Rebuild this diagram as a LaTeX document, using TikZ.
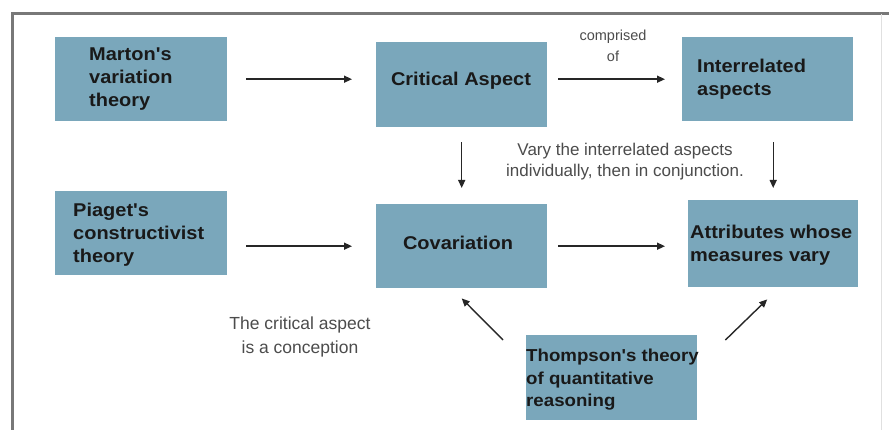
\documentclass[tikz,border=0pt]{standalone}
\usepackage{fontspec}
\setmainfont{Liberation Sans}
\newfontfamily\boxfont[FakeStretch=1.08]{Liberation Sans}
\usetikzlibrary{arrows.meta}
\definecolor{boxblue}{RGB}{122,167,187}
\definecolor{txt}{RGB}{25,25,25}
\definecolor{frame}{RGB}{120,120,120}
\tikzset{
  box/.style={rectangle, fill=boxblue, draw=none, anchor=north west, inner sep=0pt},
  btext/.style={font=\boxfont\bfseries\fontsize{18.5}{23}\selectfont, text=txt, align=left, inner sep=0pt},
  note/.style={font=\fontsize{17}{21}\selectfont, text=black!70, align=center, inner sep=0pt},
  arr/.style={-{Triangle[length=8pt,width=7pt]}, line width=1.4pt, draw=black!85},
}
\begin{document}
\begin{tikzpicture}[x=1pt,y=-1pt]
\useasboundingbox (0,0) rectangle (889,430);
\fill[white] (0,0) rectangle (889,430);
% frame
\draw[frame, line width=3pt] (12,430) -- (12,14) -- (889,14);
\draw[black!12, line width=1pt] (881,14) -- (881,430);
% boxes
\node[box, minimum width=172pt, minimum height=84pt] (marton) at (55,37) {};
\node[box, minimum width=171pt, minimum height=85pt] (critical) at (376,42) {};
\node[box, minimum width=171pt, minimum height=84pt] (inter) at (682,37) {};
\node[box, minimum width=172pt, minimum height=84pt] (piaget) at (55,191) {};
\node[box, minimum width=171pt, minimum height=84pt] (covar) at (376,204) {};
\node[box, minimum width=170pt, minimum height=87pt] (attr) at (688,200) {};
\node[box, minimum width=171pt, minimum height=85pt] (thomp) at (526,335) {};
% box texts
\node[btext, anchor=west] (tmarton) at (89,79) {Marton's\\variation\\theory};
\node[btext] (tcritical) at (461,81) {Critical Aspect};
\node[btext, anchor=west] (tinter) at (697,79) {Interrelated\\aspects};
\node[btext, anchor=west] (tpiaget) at (73,235) {Piaget's\\constructivist\\theory};
\node[btext] (tcovar) at (458,243) {Covariation};
\node[btext, anchor=west] (tattr) at (690,245) {Attributes whose\\measures vary};
\node[btext, anchor=west, font=\boxfont\bfseries\fontsize{17.3}{22.5}\selectfont] (tthomp) at (526,380) {Thompson's theory\\of quantitative\\reasoning};
% notes
\node[note, font=\fontsize{14.5}{21}\selectfont] (comprised) at (613,46) {comprised\\of};
\node[note] (vary) at (625,162) {Vary the interrelated aspects\\individually, then in conjunction.};
\node[note, font=\fontsize{17.5}{24}\selectfont] (concept) at (300,337) {The critical aspect\\is a conception};
% arrows
\draw[arr] ([xshift=19pt]marton.east) -- ([xshift=-24pt]marton.east -| critical.west);
\draw[arr] ([xshift=11pt,yshift=5.5pt]critical.east) -- ([xshift=-17pt,yshift=5.5pt]critical.east -| inter.west);
\draw[arr] ([xshift=19pt]piaget.east |- covar.west) -- ([xshift=-24pt]covar.west);
\draw[arr] ([xshift=11pt]covar.east) -- ([xshift=-23pt]covar.east -| attr.west);
\draw[arr] ([yshift=-15pt]critical.south) -- ([yshift=16pt]covar.north);
\draw[arr] ([yshift=-21pt]attr.north |- inter.south) -- ([yshift=12pt]attr.north);
\draw[arr] ([xshift=-23pt,yshift=-5pt]thomp.north west) -- ([yshift=-10pt]covar.south);
\draw[arr] ([xshift=28pt,yshift=-5pt]thomp.north east) -- ([xshift=-6pt,yshift=-12pt]attr.south);
\end{tikzpicture}
\end{document}
